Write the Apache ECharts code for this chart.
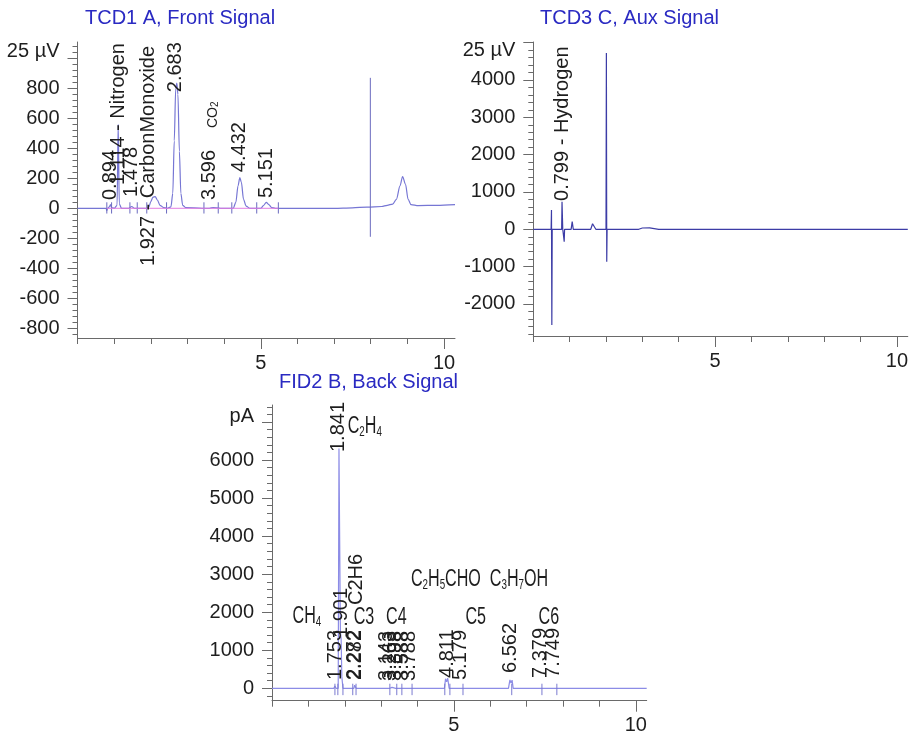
<!DOCTYPE html>
<html>
<head>
<meta charset="utf-8">
<script src="https://cdn.jsdelivr.net/npm/echarts@6/dist/echarts.min.js"></script>
<style>
  html, body { margin: 0; padding: 0; background: #ffffff; }
  #chart { width: 911px; height: 738px; }
</style>
</head>
<body>
<div id="chart"></div>
<script>
// ---------- TCD1 A, Front Signal ----------
// detector trace: [retention time (min), response]
const tcd1Trace = [
  [0, 0], [0.78, 0], [0.80, -15], [0.82, 0], [0.87, 10], [0.90, 25], [0.93, 5], [1.00, 0],
  [1.08, 20], [1.11, 560], [1.14, 30], [1.20, 0], [1.40, 0], [1.48, 12], [1.55, 0], [1.90, 0],
  [1.95, 10], [2.00, 45], [2.06, 75], [2.12, 78], [2.18, 55], [2.25, 20], [2.35, 5], [2.45, 0],
  [2.55, 10], [2.60, 100], [2.64, 450], [2.68, 800], [2.71, 835], [2.74, 760], [2.78, 380],
  [2.82, 100], [2.87, 20], [2.95, 5], [3.40, 0], [3.60, 0], [3.70, 5], [3.90, 0], [4.25, 0],
  [4.32, 40], [4.38, 150], [4.43, 205], [4.47, 175], [4.53, 60], [4.60, 15], [4.70, 0],
  [5.00, 0], [5.08, 20], [5.15, 40], [5.22, 25], [5.30, 5], [5.40, 0], [7.00, 0], [7.50, 3],
  [7.90, 8], [8.30, 12], [8.45, 20], [8.60, 28], [8.70, 60], [8.80, 150], [8.87, 212],
  [8.95, 160], [9.02, 60], [9.10, 25], [9.30, 18], [9.80, 20], [10.3, 25]
];
// integration baseline segment
const tcd1Baseline = [[0.80, 0], [5.48, 0]];
// peak start/end marks: [time, upper, lower]
const tcd1Marks = [
  [0.80, 40, -35], [0.93, 40, -35], [1.43, 40, -35], [1.63, 40, -35], [1.89, 40, -35],
  [2.43, 40, -35], [3.45, 40, -35], [3.84, 40, -35], [4.21, 40, -35], [4.89, 40, -35],
  [5.48, 40, -35], [7.99, 870, -190]
];
// peak annotations: [time, value at text start, text, font size]
const tcd1Labels = [
  [0.894, 55, '0.894', 20],
  [1.114, 155, '1.114 - Nitrogen', 20],
  [1.478, 75, '1.478', 20],
  [1.927, -385, '1.927 - CarbonMonoxide', 20],
  [2.683, 774, '2.683', 20],
  [3.596, 55, '3.596', 20],
  [3.70, 535, 'CO{s|2}', 14],
  [4.432, 241, '4.432', 20],
  [5.151, 68, '5.151', 20]
];
const tcd1YTicks = [-800, -600, -400, -200, 0, 200, 400, 600, 800, 1000];
const tcd1YUnit = ['25 µV', 1044];

// ---------- TCD3 C, Aux Signal ----------
const tcd3Trace = [
  [0, 0], [0.49, 0], [0.50, 520], [0.51, -2560], [0.52, 0], [0.78, 0], [0.79, 740], [0.80, 740],
  [0.81, 0], [0.84, 0], [0.85, -330], [0.86, 0], [1.04, 0], [1.07, 205], [1.10, 0], [1.58, 0],
  [1.63, 150], [1.67, 140], [1.72, 0], [2.00, 0], [2.01, 4720], [2.02, -870], [2.03, 0],
  [2.90, 0], [3.00, 35], [3.20, 40], [3.45, 0], [10.3, 0]
];
const tcd3Labels = [
  [0.799, 760, '0.799 - Hydrogen', 20]
];
const tcd3YTicks = [-2000, -1000, 0, 1000, 2000, 3000, 4000, 5000];
const tcd3YUnit = ['25 µV', 4800];

// ---------- FID2 B, Back Signal ----------
const fidTrace = [
  [0, 0], [1.70, 0], [1.73, 60], [1.76, 0], [1.82, 0], [1.841, 6300], [1.86, 3900], [1.88, 1500],
  [1.90, 1300], [1.92, 300], [1.95, 0], [2.25, 0], [2.272, 80], [2.29, 30], [2.31, 0], [3.24, 0],
  [3.30, 25], [3.40, 0], [4.74, 0], [4.77, 250], [4.80, 170], [4.83, 265], [4.87, 0], [5.15, 0],
  [5.18, 20], [5.22, 0], [6.50, 0], [6.54, 220], [6.57, 140], [6.60, 215], [6.63, 0], [7.38, 0],
  [7.40, 15], [7.43, 0], [10.3, 0]
];
const fidMarks = [
  [1.73, 120, -180], [1.81, 120, -180], [1.95, 120, -180], [2.22, 120, -180], [2.31, 120, -180],
  [3.24, 120, -180], [3.43, 120, -180], [3.57, 120, -180], [3.85, 120, -180], [4.75, 120, -180],
  [4.89, 120, -180], [5.25, 120, -180], [6.59, 120, -180], [7.42, 120, -180], [7.83, 120, -180]
];
const fidLabels = [
  [1.753, 218, '1.753', 20],
  [1.841, 6210, '1.841', 20],
  [1.901, 1323, '1.901', 20],
  [2.272, 218, '2.272', 20],
  [2.282, 218, '2.282', 20],
  [2.33, 2189, 'C2H6', 20],
  [3.143, 192, '3.143', 20],
  [3.263, 192, '3.263', 20],
  [3.398, 192, '3.398', 20],
  [3.588, 192, '3.588', 20],
  [3.788, 192, '3.788', 20],
  [4.811, 271, '4.811', 20],
  [5.179, 218, '5.179', 20],
  [6.562, 402, '6.562', 20],
  [7.379, 271, '7.379', 20],
  [7.749, 271, '7.749', 20]
];
// compound group names: [time, value at text centre, text]
const fidNotes = [
  [0.96, 1880, 'CH{s|4}'],
  [2.55, 6870, 'C{s|2}H{s|4}'],
  [2.53, 1850, 'C3'],
  [3.42, 1850, 'C4'],
  [4.78, 2846, 'C{s|2}H{s|5}CHO'],
  [6.79, 2846, 'C{s|3}H{s|7}OH'],
  [5.60, 1850, 'C5'],
  [7.61, 1850, 'C6']
];
const fidYTicks = [0, 1000, 2000, 3000, 4000, 5000, 6000, 7000];
const fidYUnit = ['pA', 7140];

// shared time axis
const xLabelTicks = [5, 10];
const xMinorTicks = [0, 1, 2, 3, 4, 6, 7, 8, 9];

const FONT = '"Liberation Sans", Arial, sans-serif';
const AXIS_COLOR = '#6a6a6a';
const TEXT_COLOR = '#1e1e1e';
const TITLE_COLOR = '#2a2ac2';

function range(a, b, step) {
  const out = [];
  for (let v = a; v <= b + 1e-9; v += step) out.push(Math.round(v * 1000) / 1000);
  return out;
}

function yAxesFor(gridIndex, min, max, ticks, unit, minorStep) {
  const unitText = unit[0];
  const unitAt = unit[1];
  const labelValues = ticks
    .filter(v => Math.abs(v - unitAt) > (max - min) * 0.03)
    .concat([unitAt]);
  const minor = range(Math.ceil(min / minorStep) * minorStep, max, minorStep)
    .filter(v => ticks.indexOf(v) < 0);
  return [{
    type: 'value', gridIndex, min, max, position: 'left',
    splitLine: { show: false },
    axisLine: { show: true, lineStyle: { color: AXIS_COLOR, width: 1 } },
    axisTick: { show: true, customValues: ticks, length: 10, lineStyle: { color: AXIS_COLOR } },
    axisLabel: {
      show: true, customValues: labelValues, margin: 18,
      color: TEXT_COLOR, fontSize: 20, fontFamily: FONT,
      formatter: v => (Math.abs(v - unitAt) < 1e-6 ? unitText : String(v))
    }
  }, {
    type: 'value', gridIndex, min, max, position: 'left',
    splitLine: { show: false },
    axisLine: { show: false },
    axisTick: { show: true, customValues: minor, length: 5, lineStyle: { color: AXIS_COLOR } },
    axisLabel: { show: false }
  }];
}

function xAxesFor(gridIndex) {
  return [{
    type: 'value', gridIndex, min: 0, max: 10.3, position: 'bottom',
    splitLine: { show: false },
    axisLine: { show: true, onZero: false, lineStyle: { color: AXIS_COLOR, width: 1 } },
    axisTick: { show: true, customValues: xLabelTicks, length: 11, lineStyle: { color: AXIS_COLOR } },
    axisLabel: { show: true, customValues: xLabelTicks, margin: 15, color: TEXT_COLOR, fontSize: 20, fontFamily: FONT }
  }, {
    type: 'value', gridIndex, min: 0, max: 10.3, position: 'bottom',
    splitLine: { show: false },
    axisLine: { show: false, onZero: false },
    axisTick: { show: true, customValues: xMinorTicks, length: 6, lineStyle: { color: AXIS_COLOR } },
    axisLabel: { show: false }
  }];
}

function traceSeries(xi, yi, data, color, smooth) {
  return {
    type: 'line', xAxisIndex: xi, yAxisIndex: yi, data,
    showSymbol: false, symbol: 'none', smooth: smooth, smoothMonotone: 'x',
    lineStyle: { color, width: 1.2 }, silent: true, animation: false, z: 3
  };
}

function markSeries(xi, yi, marks, color) {
  return {
    type: 'custom', xAxisIndex: xi, yAxisIndex: yi, clip: false, animation: false, silent: true, z: 4,
    data: marks.map(m => [m[0], m[1], m[2]]),
    renderItem: (params, api) => {
      const top = api.coord([api.value(0), api.value(1)]);
      const bot = api.coord([api.value(0), api.value(2)]);
      return {
        type: 'line',
        shape: { x1: top[0], y1: top[1], x2: bot[0], y2: bot[1] },
        style: { stroke: color, lineWidth: 1 }
      };
    }
  };
}

// vertical peak annotations, reading bottom to top from the anchor point
function labelSeries(xi, yi, labels) {
  return {
    type: 'custom', xAxisIndex: xi, yAxisIndex: yi, clip: false, animation: false, silent: true, z: 6,
    data: labels.map(l => [l[0], l[1]]),
    renderItem: (params, api) => {
      const l = labels[params.dataIndex];
      const p = api.coord([api.value(0), api.value(1)]);
      return {
        type: 'text', x: p[0], y: p[1], rotation: Math.PI / 2,
        style: {
          text: l[2], fill: TEXT_COLOR, fontSize: l[3], fontFamily: FONT,
          align: 'left', verticalAlign: 'middle',
          rich: { s: { fontSize: Math.round(l[3] * 0.7), lineHeight: 8, verticalAlign: 'bottom', fontFamily: FONT, fill: TEXT_COLOR } }
        }
      };
    }
  };
}

// horizontal group names, set in a horizontally condensed face
function noteSeries(xi, yi, notes) {
  return {
    type: 'custom', xAxisIndex: xi, yAxisIndex: yi, clip: false, animation: false, silent: true, z: 6,
    data: notes.map(n => [n[0], n[1]]),
    renderItem: (params, api) => {
      const n = notes[params.dataIndex];
      const p = api.coord([api.value(0), api.value(1)]);
      return {
        type: 'text', x: p[0], y: p[1], scaleX: 0.7, scaleY: 1,
        style: {
          text: n[2], fill: TEXT_COLOR, fontSize: 23, fontFamily: FONT, lineHeight: 24,
          align: 'center', verticalAlign: 'middle',
          rich: { s: { fontSize: 14, lineHeight: 9, verticalAlign: 'bottom', fontFamily: FONT, fill: TEXT_COLOR } }
        }
      };
    }
  };
}

const titleStyle = { color: TITLE_COLOR, fontSize: 20, fontWeight: 'normal', fontFamily: FONT };

const chart = echarts.init(document.getElementById('chart'), null, { renderer: 'canvas' });
chart.setOption({
  animation: false,
  backgroundColor: '#ffffff',
  title: [
    { text: 'TCD1 A, Front Signal', left: 85, top: 8, padding: 0, textStyle: titleStyle },
    { text: 'TCD3 C, Aux Signal', left: 540, top: 8, padding: 0, textStyle: titleStyle },
    { text: 'FID2 B, Back Signal', left: 279, top: 372, padding: 0, textStyle: titleStyle }
  ],
  grid: [
    { left: 77.5, top: 42, width: 377.5, height: 296 },
    { left: 533.3, top: 42, width: 374.7, height: 294 },
    { left: 272, top: 405, width: 374.7, height: 295.7 }
  ],
  xAxis: [].concat(xAxesFor(0), xAxesFor(1), xAxesFor(2)),
  yAxis: [].concat(
    yAxesFor(0, -865, 1109, tcd1YTicks, tcd1YUnit, 40),
    yAxesFor(1, -2858, 5017, tcd3YTicks, tcd3YUnit, 200),
    yAxesFor(2, -326, 7446, fidYTicks, fidYUnit, 200)
  ),
  series: [
    traceSeries(0, 0, tcd1Trace, '#7676d4', 0.3),
    {
      type: 'line', xAxisIndex: 0, yAxisIndex: 0, data: tcd1Baseline, showSymbol: false, symbol: 'none',
      lineStyle: { color: '#e27ee2', width: 1 }, silent: true, animation: false, z: 4
    },
    markSeries(0, 0, tcd1Marks, '#6a6abf'),
    labelSeries(0, 0, tcd1Labels),

    traceSeries(2, 2, tcd3Trace, '#3c3ca6', false),
    labelSeries(2, 2, tcd3Labels),

    traceSeries(4, 4, fidTrace, '#8c8ce6', false),
    markSeries(4, 4, fidMarks, '#7a7ad0'),
    labelSeries(4, 4, fidLabels),
    noteSeries(4, 4, fidNotes)
  ]
});
</script>
</body>
</html>
